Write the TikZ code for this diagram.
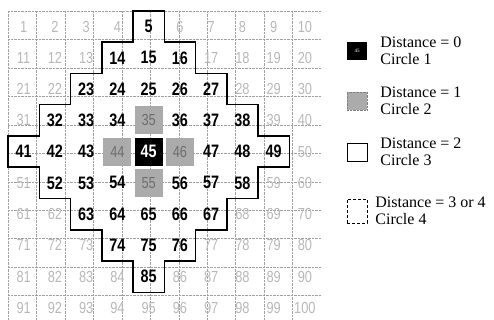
\documentclass[tikz,border=0pt]{standalone}
\usepackage{fontspec}
\setmainfont{Liberation Serif}
\newfontfamily\cellfont[FakeStretch=0.8]{Liberation Sans}
\usetikzlibrary{positioning}
\definecolor{ringfill}{HTML}{ABABAB}
\definecolor{ringnum}{HTML}{6E6E6E}
\definecolor{fadenum}{HTML}{B8B8B8}
\definecolor{gridline}{HTML}{A0A0A0}

\begin{document}
\begin{tikzpicture}[x=1pt, y=-1pt,
    num/.style={font=\cellfont\bfseries\fontsize{18}{18}\selectfont, inner sep=0pt},
    faded/.style={font=\cellfont\fontsize{16}{16}\selectfont, inner sep=0pt, text=fadenum},
    legbox/.style={minimum width=20pt, minimum height=18pt, inner sep=0pt, thin},
    legtext/.style={font=\fontsize{16}{16.5}\selectfont, align=left, inner sep=0pt}]
  \useasboundingbox (0,0) rectangle (494,320);
  % the 10x10 board
  \begin{scope}[shift={(8,11)}, x=31.25pt, y=-31.25pt]
    \draw[gridline, densely dotted] (0,0) grid (10,10);
    \foreach \r in {1,...,10}{
      \foreach \c in {1,...,10}{
        \pgfmathtruncatemacro{\n}{10*(\r-1)+\c}
        \pgfmathtruncatemacro{\d}{abs(\r-5)+abs(\c-5)}
        \ifnum\d=0
          \fill[black] (\c-0.95,\r-0.95) rectangle (\c-0.05,\r-0.05);
          \node[num, text=white] (n\n) at (\c-0.5,\r-0.5) {\n};
        \else\ifnum\d=1
          \fill[ringfill] (\c-0.95,\r-0.95) rectangle (\c-0.05,\r-0.05);
          \node[faded, text=ringnum] (n\n) at (\c-0.5,\r-0.5) {\n};
        \else\ifnum\d<5
          \node[num] (n\n) at (\c-0.5,\r-0.5) {\n};
        \else
          \node[faded] (n\n) at (\c-0.5,\r-0.5) {\n};
        \fi\fi\fi
      }
    }
    % outline of distance <= 4
    \draw[line width=1.5pt] (4,0) -- (5,0) -- (5,1) -- (6,1) -- (6,2) -- (7,2)
      -- (7,3) -- (8,3) -- (8,4) -- (9,4) -- (9,5) -- (8,5) -- (8,6) -- (7,6)
      -- (7,7) -- (6,7) -- (6,8) -- (5,8) -- (5,9) -- (4,9) -- (4,8) -- (3,8)
      -- (3,7) -- (2,7) -- (2,6) -- (1,6) -- (1,5) -- (0,5) -- (0,4) -- (1,4)
      -- (1,3) -- (2,3) -- (2,2) -- (3,2) -- (3,1) -- (4,1) -- cycle;
  \end{scope}
  % legend
  \node[legbox, fill=black, text=white, font=\fontsize{5}{5}\selectfont] (key0) at (357,51) {45};
  \node[legtext, right=13pt of key0] (txt0) {Distance = 0\\Circle 1};
  \node[legbox, fill=ringfill, draw=gray, densely dotted] (key1) at (357,101) {};
  \node[legtext, right=13pt of key1] (txt1) {Distance = 1\\Circle 2};
  \node[legbox, draw] (key2) at (357,152) {};
  \node[legtext, right=13pt of key2] (txt2) {Distance = 2\\Circle 3};
  \node[legbox, draw, densely dashed, minimum height=24pt] (key3) at (357,211) {};
  \node[legtext, right=8pt of key3] (txt3) {Distance = 3 or 4\\Circle 4};
\end{tikzpicture}
\end{document}
